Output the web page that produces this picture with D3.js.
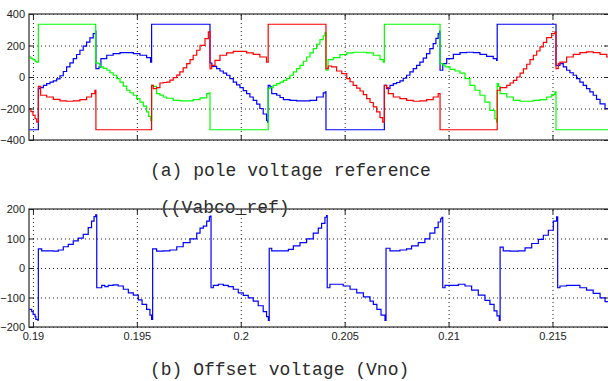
<!DOCTYPE html>
<html>
<head>
<meta charset="utf-8">
<script src="https://cdn.jsdelivr.net/npm/d3@7"></script>
<style>
  body { margin: 0; background: #fff; }
  svg { display: block; }
  .tick text { font-family: "Liberation Sans Narrow", "Liberation Sans", Arial, sans-serif; font-size: 11px; fill: #222; }
  .grid line { stroke: #222; stroke-dasharray: 1,3; }
  .grid .domain { display: none; }
  .cap { font-family: "Liberation Mono", "DejaVu Sans Mono", monospace; font-size: 18px; fill: #2a2a2a; }
</style>
</head>
<body>
<svg id="chart" width="608" height="381"></svg>
<script>
// x tick labels (seconds); the data below keeps time in ms
const xTicks = [0.19, 0.195, 0.2, 0.205, 0.21, 0.215];
const yTicksA = [400, 200, 0, -200, -400];
const yTicksB = [200, 100, 0, -100, -200];

// (a) pole voltage references, [time ms, volts]
const vaRed = [
  [189.81,-200],[189.90,-220],[190.00,-243],[190.10,-265],[190.18,-286],
  [190.26,-59],[190.37,-116],[190.66,-127],[190.98,-142],[191.30,-152],[191.62,-154],[191.94,-152],[192.26,-144],[192.58,-127],[192.82,-105],[192.98,-84],
  [193.03,-335],
  [195.71,-53],[195.79,-74],[195.95,-67],[196.11,-38],[196.27,-35],[196.43,-32],[196.59,-20],[196.75,-4],[196.92,12],[197.07,32],[197.23,58],[197.40,85],[197.56,110],[197.71,138],[197.88,170],[198.04,201],[198.28,244],[198.44,286],
  [198.52,53],[198.60,74],[198.76,106],[199.00,138],[199.32,153],[199.64,163],[199.96,163],[200.28,153],[200.60,144],[200.92,127],[201.24,95],
  [201.32,335],
  [204.10,53],[204.21,70],[204.37,64],[204.61,38],[204.86,21],[205.10,-10],[205.26,-30],[205.41,-53],[205.58,-70],[205.74,-89],[205.90,-112],[206.06,-137],[206.22,-162],[206.38,-190],[206.54,-222],[206.70,-258],[206.83,-286],
  [206.91,-53],[207.02,-67],[207.10,-105],[207.34,-127],[207.66,-137],[207.98,-148],[208.30,-154],[208.62,-152],[208.94,-144],[209.26,-127],[209.50,-105],
  [209.59,-335],
  [212.34,-84],[212.48,-67],[212.80,-53],[212.96,-38],[213.12,-21],[213.28,0],[213.44,25],[213.60,52],[213.76,81],[213.92,110],[214.08,138],[214.24,165],[214.40,191],[214.56,220],[214.72,250],[214.96,276],[215.12,286],
  [215.17,53],[215.28,85],[215.36,95],[215.68,127],[216.00,144],[216.32,155],[216.64,159],[216.96,155],[217.29,144],[217.61,127],[217.72,120]
];
const vbGreen = [
  [189.81,127],[189.90,118],[190.00,110],[190.10,100],[190.18,95],
  [190.26,335],
  [193.02,90],[193.13,85],[193.22,64],[193.38,55],[193.56,43],[193.71,27],[193.86,11],[194.03,-10],[194.19,-32],[194.35,-58],[194.51,-84],[194.67,-100],[194.83,-116],[194.99,-137],[195.15,-159],[195.31,-185],[195.47,-222],[195.57,-250],[195.66,-275],
  [195.71,-53],[195.79,-59],[195.95,-105],[196.11,-115],[196.27,-127],[196.43,-135],[196.75,-148],[197.07,-152],[197.40,-152],[197.71,-144],[198.04,-133],[198.36,-105],[198.49,-101],
  [198.52,-335],
  [201.32,-74],[201.41,-67],[201.56,-53],[201.73,-42],[201.89,-32],[202.05,-21],[202.21,-10],[202.37,11],[202.53,32],[202.69,53],[202.85,74],[203.01,100],[203.17,127],[203.33,153],[203.49,180],[203.65,208],[203.81,237],[203.97,262],[204.05,282],
  [204.10,43],[204.20,110],[204.45,123],[204.77,142],[205.10,153],[205.41,157],[205.74,157],[206.06,153],[206.38,138],[206.70,110],[206.86,95],
  [206.91,335],
  [209.59,85],[209.73,75],[209.83,64],[210.07,49],[210.31,38],[210.55,25],[210.79,-10],[211.03,-53],[211.27,-84],[211.51,-116],[211.75,-159],[211.99,-212],[212.23,-264],[212.31,-286],
  [212.34,-42],[212.40,-60],[212.48,-105],[212.80,-127],[213.12,-148],[213.44,-154],[213.76,-154],[214.08,-148],[214.40,-144],[214.72,-127],[214.96,-112],[215.12,-95],
  [215.17,-335],[217.72,-335]
];
const vcBlue = [
  [189.81,-335],
  [190.26,-74],[190.34,-67],[190.50,-53],[190.66,-42],[190.82,-32],[190.98,-25],[191.14,-12],[191.30,8],[191.46,35],[191.62,64],[191.78,90],[191.94,117],[192.10,143],[192.26,170],[192.42,196],[192.58,222],[192.74,249],[192.90,276],[193.01,292],
  [193.03,53],[193.18,64],[193.27,117],[193.55,138],[193.86,149],[194.19,155],[194.51,155],[194.83,149],[195.15,138],[195.47,123],[195.66,95],
  [195.71,335],
  [198.52,89],[198.61,68],[198.84,53],[199.00,38],[199.16,25],[199.32,11],[199.48,-10],[199.64,-32],[199.80,-50],[199.96,-67],[200.12,-86],[200.28,-105],[200.44,-127],[200.60,-148],[200.77,-172],[200.92,-200],[201.08,-235],[201.24,-275],[201.29,-286],
  [201.32,-53],[201.41,-63],[201.49,-105],[201.73,-116],[201.89,-130],[202.05,-144],[202.37,-148],[202.69,-152],[203.01,-152],[203.33,-148],[203.65,-127],[203.97,-101],[204.07,-95],
  [204.10,-335],
  [206.91,-53],[207.02,-74],[207.18,-53],[207.34,-42],[207.50,-35],[207.66,-25],[207.82,-8],[207.98,11],[208.14,32],[208.30,53],[208.46,74],[208.62,95],[208.78,120],[208.94,149],[209.10,180],[209.26,212],[209.39,245],[209.50,276],[209.57,292],
  [209.59,43],[209.72,85],[209.91,117],[210.23,144],[210.55,155],[210.87,157],[211.19,155],[211.51,144],[211.83,131],[212.15,117],[212.31,106],
  [212.34,335],
  [215.17,74],[215.36,85],[215.52,64],[215.68,43],[215.84,27],[216.00,11],[216.16,-10],[216.32,-32],[216.48,-53],[216.64,-74],[216.80,-95],[216.96,-116],[217.12,-142],[217.29,-170],[217.53,-200],[217.72,-226]
];

// (b) offset voltage Vno, [time ms, volts]
const vno = [
  [189.81,-140],[189.94,-148],[190.01,-157],[190.10,-165],[190.14,-174],[190.23,-177],
  [190.26,65],[190.42,58],[190.66,58],[190.98,57],[191.22,61],[191.46,72],[191.70,80],[191.94,92],[192.18,101],[192.42,114],[192.66,137],[192.82,159],[192.94,174],[193.02,180],
  [193.07,-67],[193.31,-59],[193.46,-63],[193.62,-59],[193.86,-57],[194.10,-61],[194.35,-72],[194.59,-84],[194.83,-92],[195.07,-108],[195.25,-123],[195.47,-140],[195.63,-160],[195.71,-174],
  [195.76,65],[195.95,57],[196.27,58],[196.59,61],[196.92,72],[197.23,86],[197.56,99],[197.88,118],[198.04,135],[198.20,142],[198.36,159],[198.49,173],[198.53,176],
  [198.57,-67],[198.68,-59],[198.92,-55],[199.16,-59],[199.40,-63],[199.64,-72],[199.88,-84],[200.12,-93],[200.36,-101],[200.60,-112],[200.84,-128],[201.08,-148],[201.24,-165],[201.33,-178],
  [201.37,67],[201.49,58],[201.73,58],[202.05,58],[202.29,63],[202.53,75],[202.85,86],[203.17,99],[203.49,118],[203.73,135],[203.89,151],[204.05,172],[204.13,178],
  [204.16,-67],[204.29,-55],[204.61,-55],[204.93,-61],[205.26,-72],[205.58,-84],[205.90,-98],[206.22,-112],[206.38,-123],[206.55,-140],[206.75,-160],[206.94,-178],
  [206.99,67],[207.18,58],[207.50,58],[207.66,61],[207.98,65],[208.22,75],[208.54,86],[208.86,99],[209.10,118],[209.34,137],[209.50,156],[209.62,167],[209.68,172],
  [209.72,-67],[209.83,-59],[210.07,-59],[210.47,-55],[210.79,-61],[211.11,-75],[211.43,-92],[211.75,-110],[211.99,-123],[212.19,-145],[212.33,-162],[212.44,-178],
  [212.48,71],[212.63,58],[212.96,57],[213.36,58],[213.68,68],[214.00,83],[214.32,97],[214.56,111],[214.80,128],[215.04,159],[215.20,173],
  [215.25,-67],[215.36,-61],[215.68,-59],[216.00,-59],[216.32,-67],[216.64,-75],[216.96,-86],[217.29,-101],[217.53,-114],[217.72,-125]
];

const svg = d3.select("#chart");
const left = 29, right = 609;

const x = d3.scaleLinear().domain([189.81, 217.72]).range([left, right]);
const xTickMs = xTicks.map(d => d * 1000);

function drawPanel(id, top, bottom, yDomain, yTicks, series, showXLabels) {
  const y = d3.scaleLinear().domain(yDomain).range([bottom, top]);
  const g = svg.append("g");

  // dotted grid
  g.append("g").attr("class", "grid")
    .attr("transform", "translate(0," + bottom + ")")
    .call(d3.axisBottom(x).tickValues(xTickMs).tickSize(-(bottom - top)).tickFormat(""));
  g.append("g").attr("class", "grid")
    .attr("transform", "translate(" + left + ",0)")
    .call(d3.axisLeft(y).tickValues(yTicks).tickSize(-(right - left)).tickFormat(""));

  // traces
  g.append("clipPath").attr("id", id)
    .append("rect").attr("x", left).attr("y", top)
    .attr("width", right - left).attr("height", bottom - top);

  const line = d3.line()
    .x(d => x(d[0]))
    .y(d => y(d[1]))
    .curve(d3.curveStepAfter);

  series.forEach(s => {
    g.append("path")
      .attr("clip-path", "url(#" + id + ")")
      .attr("d", line(s.data))
      .attr("fill", "none")
      .attr("stroke", s.color)
      .attr("stroke-width", 1.2);
  });

  // box
  g.append("rect")
    .attr("x", left).attr("y", top)
    .attr("width", right - left).attr("height", bottom - top)
    .attr("fill", "none").attr("stroke", "#4a4a4a").attr("stroke-width", 1.4);

  // inward ticks on all four sides
  const yl = g.append("g").attr("transform", "translate(" + left + ",0)")
    .call(d3.axisLeft(y).tickValues(yTicks).tickSizeInner(-5).tickSizeOuter(0).tickPadding(4));
  const yr = g.append("g").attr("transform", "translate(" + right + ",0)")
    .call(d3.axisRight(y).tickValues(yTicks).tickSizeInner(-5).tickSizeOuter(0).tickFormat(""));
  const xt = g.append("g").attr("transform", "translate(0," + top + ")")
    .call(d3.axisTop(x).tickValues(xTickMs).tickSizeInner(-5).tickSizeOuter(0).tickFormat(""));
  const xb = g.append("g").attr("transform", "translate(0," + bottom + ")")
    .call(d3.axisBottom(x).tickValues(xTickMs).tickSizeInner(-5).tickSizeOuter(0).tickPadding(5)
      .tickFormat((d, i) => showXLabels ? String(xTicks[i]) : ""));
  [yl, yr, xt, xb].forEach(a => {
    a.select(".domain").remove();
    a.selectAll(".tick line").attr("stroke", "#222");
  });
}

drawPanel("clipA", 14, 140, [-400, 400], yTicksA,
  [{ data: vcBlue, color: "#0000ff" }, { data: vbGreen, color: "#00ff00" }, { data: vaRed, color: "#ff0000" }], false);

svg.append("text").attr("class", "cap").attr("x", 150).attr("y", 176).text("(a) pole voltage reference");
svg.append("text").attr("class", "cap").attr("x", 160).attr("y", 213).text("((Vabco_ref)");

drawPanel("clipB", 209, 327, [-200, 200], yTicksB,
  [{ data: vno, color: "#0000ff" }], true);

svg.append("text").attr("class", "cap").attr("x", 150).attr("y", 375).text("(b) Offset voltage (Vno)");
</script>
</body>
</html>
